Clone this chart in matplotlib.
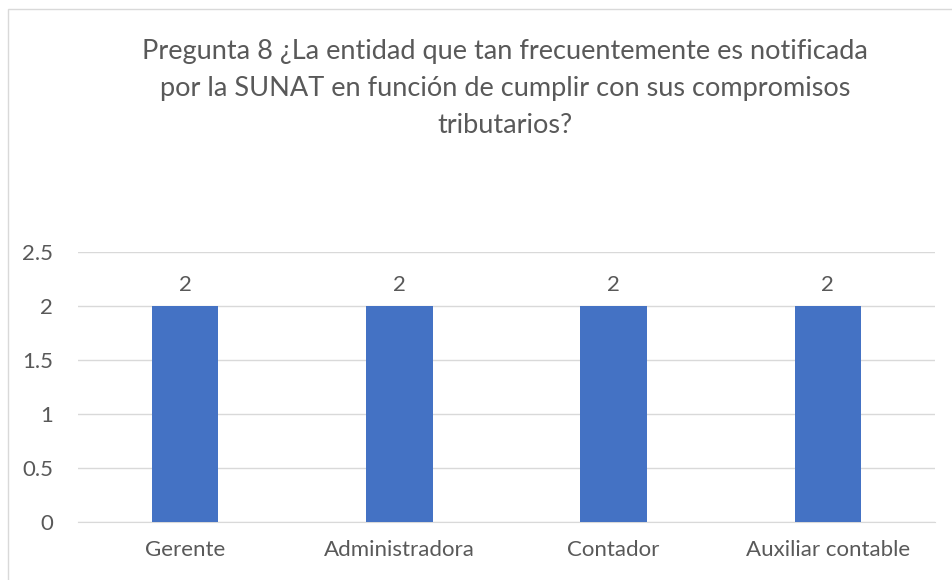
import matplotlib.pyplot as plt
from matplotlib.patches import Rectangle

categorias = ['Gerente', 'Administradora', 'Contador', 'Auxiliar contable']
valores = [2, 2, 2, 2]
yticks = [0, 0.5, 1, 1.5, 2, 2.5]
ytick_labels = ['0', '0.5', '1', '1.5', '2', '2.5']
titulo = ('Pregunta 8 ¿La entidad que tan frecuentemente es notificada\n'
          'por la SUNAT en función de cumplir con sus compromisos\n'
          'tributarios?')

plt.rcParams['font.family'] = ['Lato', 'DejaVu Sans']
gris = '#595959'

fig = plt.figure(figsize=(9.52, 5.8), dpi=100)
ax = fig.add_axes([78/952, 1 - 522/580, (935 - 78)/952, (522 - 252)/580])

x = range(len(categorias))
barras = ax.bar(x, valores, width=0.31, color='#4472C4', zorder=3)
ax.bar_label(barras, labels=[str(v) for v in valores], padding=8,
             fontsize=16, color=gris)

ax.set_xlim(-0.5, len(categorias) - 0.5)
ax.set_ylim(0, 2.5)
ax.set_yticks(yticks)
ax.set_yticklabels(ytick_labels)
ax.set_xticks(list(x))
ax.set_xticklabels(categorias)
ax.tick_params(axis='y', length=0, pad=18, labelsize=16, labelcolor=gris)
ax.tick_params(axis='x', length=0, pad=13, labelsize=16, labelcolor=gris)
ax.grid(axis='y', color='#D9D9D9', linewidth=1, zorder=0)
for lado in ['top', 'right', 'left']:
    ax.spines[lado].set_visible(False)
ax.spines['bottom'].set_color('#D9D9D9')

fig.text(505/952, 1 - 39/580, titulo, ha='center', va='top',
         fontsize=19.5, color=gris, linespacing=1.6)

# marco del grafico
fig.patches.append(Rectangle((8/952, -0.1), 1.2, 1 - 9/580 + 0.1,
                             transform=fig.transFigure, fill=False,
                             edgecolor='#D9D9D9', linewidth=1))

fig.savefig('out.png', dpi=100)
